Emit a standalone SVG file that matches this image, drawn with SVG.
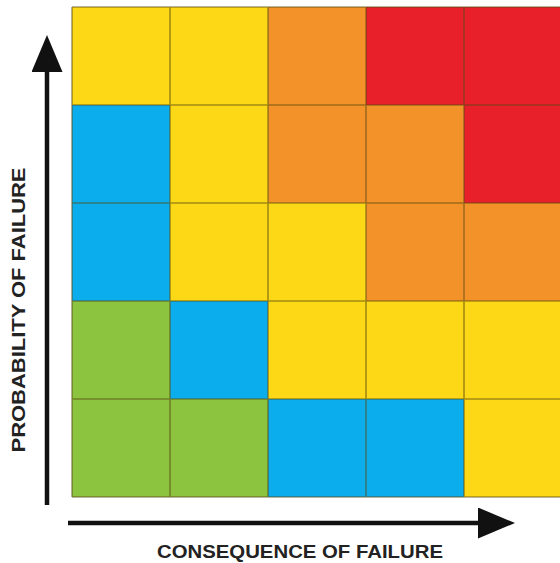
<svg xmlns="http://www.w3.org/2000/svg" width="560" height="563" viewBox="0 0 560 563">
  <style>
    .y { fill: #fdd816; }
    .o { fill: #f4922a; }
    .r { fill: #e8202a; }
    .b { fill: #0badec; }
    .g { fill: #8cc43f; }
    .grid { stroke: #5a4a10; stroke-opacity: 0.55; stroke-width: 1.6; fill: none; }
    .axis { stroke: #111; stroke-width: 4.5; fill: none; }
    .label { font-family: "Liberation Sans", Arial, sans-serif; font-weight: bold; font-size: 18px; fill: #222; }
  </style>
  <defs>
    <marker id="head" viewBox="0 0 37 31" refX="2" refY="15.5" markerWidth="37" markerHeight="31" markerUnits="userSpaceOnUse" orient="auto">
      <path d="M0,0 L37,15.5 L0,31 Z" fill="#111"/>
    </marker>
  </defs>
  <rect width="560" height="563" fill="#ffffff"/>

  <!-- risk matrix cells: 5 rows x 5 columns, 98px each -->
  <g id="matrix">
    <!-- row 1 -->
    <rect class="y" x="72" y="7" width="98" height="98"/>
    <rect class="y" x="170" y="7" width="98" height="98"/>
    <rect class="o" x="268" y="7" width="98" height="98"/>
    <rect class="r" x="366" y="7" width="98" height="98"/>
    <rect class="r" x="464" y="7" width="98" height="98"/>
    <!-- row 2 -->
    <rect class="b" x="72" y="105" width="98" height="98"/>
    <rect class="y" x="170" y="105" width="98" height="98"/>
    <rect class="o" x="268" y="105" width="98" height="98"/>
    <rect class="o" x="366" y="105" width="98" height="98"/>
    <rect class="r" x="464" y="105" width="98" height="98"/>
    <!-- row 3 -->
    <rect class="b" x="72" y="203" width="98" height="98"/>
    <rect class="y" x="170" y="203" width="98" height="98"/>
    <rect class="y" x="268" y="203" width="98" height="98"/>
    <rect class="o" x="366" y="203" width="98" height="98"/>
    <rect class="o" x="464" y="203" width="98" height="98"/>
    <!-- row 4 -->
    <rect class="g" x="72" y="301" width="98" height="98"/>
    <rect class="b" x="170" y="301" width="98" height="98"/>
    <rect class="y" x="268" y="301" width="98" height="98"/>
    <rect class="y" x="366" y="301" width="98" height="98"/>
    <rect class="y" x="464" y="301" width="98" height="98"/>
    <!-- row 5 -->
    <rect class="g" x="72" y="399" width="98" height="98"/>
    <rect class="g" x="170" y="399" width="98" height="98"/>
    <rect class="b" x="268" y="399" width="98" height="98"/>
    <rect class="b" x="366" y="399" width="98" height="98"/>
    <rect class="y" x="464" y="399" width="98" height="98"/>
    <!-- cell borders -->
    <path class="grid" d="M72,7 H562 M72,105 H562 M72,203 H562 M72,301 H562 M72,399 H562 M72,497 H562
                          M72,7 V497 M170,7 V497 M268,7 V497 M366,7 V497 M464,7 V497"/>
  </g>

  <!-- axes -->
  <g id="connectors">
    <line class="axis" x1="47" y1="505" x2="47" y2="70" marker-end="url(#head)"/>
    <line class="axis" x1="68" y1="523" x2="480" y2="523" marker-end="url(#head)"/>
  </g>

  <g id="axis-labels">
    <text class="label" x="300" y="558" text-anchor="middle" textLength="286" lengthAdjust="spacingAndGlyphs">CONSEQUENCE OF FAILURE</text>
    <text class="label" transform="translate(25,310) rotate(-90)" x="0" y="0" text-anchor="middle" textLength="285" lengthAdjust="spacingAndGlyphs">PROBABILITY OF FAILURE</text>
  </g>
</svg>
